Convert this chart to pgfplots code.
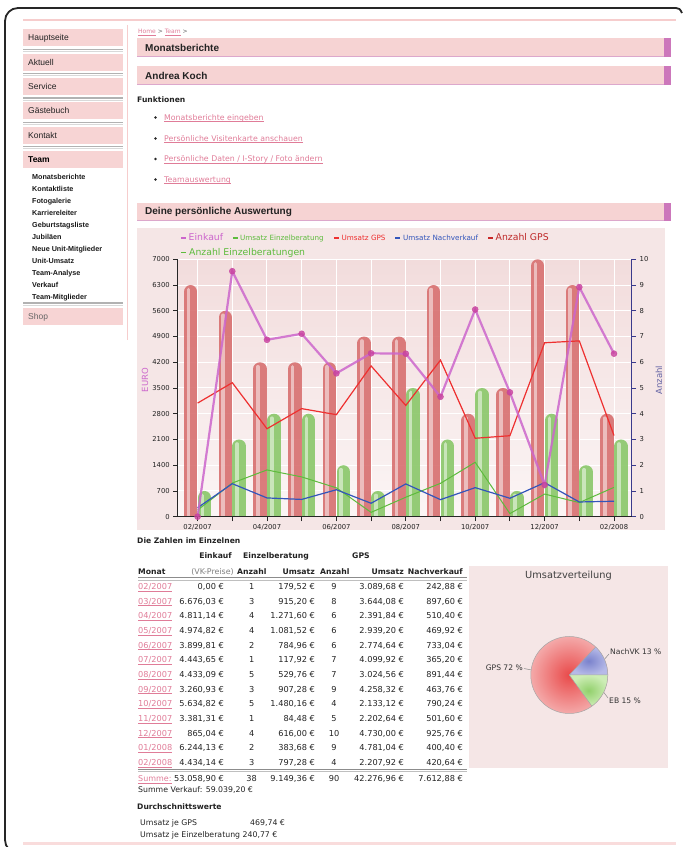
\documentclass[border=0pt]{standalone}
\usepackage{pgfplots}
\pgfplotsset{compat=1.18}
\usepackage{pgfplotstable}
\usepackage{fontspec}
\setmainfont{Liberation Sans}
\newfontfamily\verd{DejaVu Sans}
\newcommand\fs[1]{\fontsize{#1}{#1}\selectfont}
\newcommand\ul[1]{\underline{\smash{#1}}}

\definecolor{btn}{HTML}{F7D4D4}
\definecolor{hdr}{HTML}{F6D3D3}
\definecolor{hdrline}{HTML}{DCA8CC}
\definecolor{mag}{HTML}{CC77BB}
\definecolor{panel}{HTML}{F5E6E6}
\definecolor{plottop}{HTML}{F2DCDC}
\definecolor{plotbot}{HTML}{FBF5F5}
\definecolor{link}{HTML}{E07C98}
\definecolor{einkauf}{HTML}{CC66CC}
\definecolor{einkaufdk}{HTML}{C8409E}
\definecolor{gpsred}{HTML}{EE3030}
\definecolor{ebgreen}{HTML}{5DBB3C}
\definecolor{nvblue}{HTML}{3355BB}
\definecolor{navy}{HTML}{3A3A8C}
\definecolor{txt}{HTML}{222222}
\definecolor{pinkline}{HTML}{F6CDCD}
\definecolor{pieR1}{HTML}{E94A4A}
\definecolor{pieR2}{HTML}{F4A9A9}
\definecolor{pieB1}{HTML}{7A82CC}
\definecolor{pieB2}{HTML}{B6BAE8}
\definecolor{pieG1}{HTML}{92D06C}
\definecolor{pieG2}{HTML}{CDEDB6}
\definecolor{redbar}{HTML}{D87272}
\definecolor{grbar}{HTML}{8CC86C}

\pgfplotstableread{
x gps eb einkauf umeb umgps umnv
0 9 1 0.00 179.52 3089.68 242.88
1 8 3 6676.03 915.20 3644.08 897.60
2 6 4 4811.14 1271.60 2391.84 510.40
3 6 4 4974.82 1081.52 2939.20 469.92
4 6 2 3899.81 784.96 2774.64 733.04
5 7 1 4443.65 117.92 4099.92 365.20
6 7 5 4433.09 529.76 3024.56 891.44
7 9 3 3260.93 907.28 4258.32 463.76
8 4 5 5634.82 1480.16 2133.12 790.24
9 5 1 3381.31 84.48 2202.64 501.60
10 10 4 865.04 616.00 4730.00 925.76
11 9 2 6244.13 383.68 4781.04 400.40
12 4 3 4434.14 797.28 2207.92 420.64
}\data

\newcommand\hdrbar[3]{%
  \fill[hdr] (137,#1) rectangle (671,#2);
  \fill[mag] (664,#1) rectangle (671,#2);
  \draw[hdrline, line width=1.2pt] (137,#2-0.6) -- (664,#2-0.6);
  \node[anchor=west, font=\bfseries\fs{10}] at (145,{(#1+#2)/2}) {#3};}

\newcommand\sbtn[3]{%
  \fill[btn] (23,#1) rectangle (123,#1+17);
  \node[anchor=base west, font=\fs{8.5}, text=#3] at (28,#1+11.8) {#2};}
\newcommand\ssep[1]{%
  \draw[black!30, line width=1.3pt] (23,#1) -- (123,#1);
  \draw[black!15, line width=1pt] (23,#1+2.2) -- (123,#1+2.2);}

\newcommand\flink[2]{%
  \fill[black!85] (155.5,#1) circle (1.4);
  \node[anchor=mid west, font=\verd\fs{7.8}, text=link] at (164,#1) {\ul{#2}};}

\newcommand\trow[8]{%
  \node[anchor=mid west, text=link] at (138,#1) {\ul{#2}};
  \node[anchor=mid east] at (224,#1) {#3};
  \node[anchor=mid] at (251.7,#1) {#4};
  \node[anchor=mid east] at (315,#1) {#5};
  \node[anchor=mid] at (334,#1) {#6};
  \node[anchor=mid east] at (404,#1) {#7};
  \node[anchor=mid east] at (463,#1) {#8};}

\begin{document}
\begin{tikzpicture}[x=1pt,y=1pt]
\useasboundingbox (0,0) rectangle (683,847);
\begin{scope}[shift={(0,847)}, yscale=-1, every node/.style={inner sep=0pt, text=txt}]
% frame
\draw[line width=1.8pt, black!85, rounded corners=13pt] (40,853) -- (5,853) -- (5,8) -- (676,8);
\draw[line width=1.8pt, black!85] (676,8) .. controls (679,8) and (680,9) .. (682,13);
% top and bottom pink lines
\draw[pinkline, line width=2pt] (23,20.5) -- (676,20.5);
\draw[pinkline!70, line width=2.5pt] (23,843.5) -- (676,843.5);
% sidebar
\draw[pinkline, line width=1pt] (127.5,25) -- (127.5,340);
\sbtn{29}{Hauptseite}{txt}
\ssep{49.5}
\sbtn{54}{Aktuell}{txt}
\ssep{73.8}
\sbtn{78}{Service}{txt}
\ssep{98}
\sbtn{102}{G\"astebuch}{txt}
\ssep{122.3}
\sbtn{127}{Kontakt}{txt}
\ssep{146.6}
\fill[btn] (23,151) rectangle (123,168);
\node[anchor=base west, font=\bfseries\fs{8.5}, text=black] at (28,162.8) {Team};
\foreach \t [count=\i from 0] in {Monatsberichte,Kontaktliste,Fotogalerie,Karriereleiter,Geburtstagsliste,Jubil\"aen,Neue Unit-Mitglieder,Unit-Umsatz,Team-Analyse,Verkauf,Team-Mitglieder}
  \node[anchor=base west, font=\bfseries\fs{7.2}, text=black!90] at (32,179.9+11.93*\i) {\t};
\ssep{303}
\fill[btn] (23,308) rectangle (123,325);
\node[anchor=base west, font=\fs{8.5}, text=black!60] at (28,319.8) {Shop};
% breadcrumb
\node[anchor=mid west, font=\verd\fs{6}, text=link] at (138,31) {\ul{Home}\textcolor{black!60}{~>~}\ul{Team}\textcolor{black!60}{~>}};
% headers
\hdrbar{38}{57.5}{Monatsberichte}
\hdrbar{66.5}{85}{Andrea Koch}
\node[anchor=mid west, font=\verd\bfseries\fs{7.6}] at (137,100) {Funktionen};
\flink{117.5}{Monatsberichte eingeben}
\flink{138.5}{Pers\"onliche Visitenkarte anschauen}
\flink{159}{Pers\"onliche Daten / I-Story / Foto \"andern}
\flink{179.5}{Teamauswertung}
\hdrbar{203}{221.5}{Deine pers\"onliche Auswertung}
% chart panel
\fill[panel] (137,228) rectangle (665,530.5);
% legend
\draw[einkauf, line width=1.8pt] (181,238) -- (186,238);
\node[anchor=mid west, font=\verd\fs{9.3}, text=einkauf] at (188.5,238) {Einkauf};
\draw[ebgreen, line width=1.5pt] (233,238) -- (238,238);
\node[anchor=mid west, font=\verd\fs{7.2}, text=ebgreen] at (240,238) {Umsatz Einzelberatung};
\draw[gpsred, line width=1.5pt] (334,238) -- (339,238);
\node[anchor=mid west, font=\verd\fs{7.2}, text=gpsred] at (341.5,238) {Umsatz GPS};
\draw[nvblue, line width=1.5pt] (395,238) -- (400,238);
\node[anchor=mid west, font=\verd\fs{7.2}, text=nvblue] at (403,238) {Umsatz Nachverkauf};
\draw[gpsred!85!black, line width=1.5pt] (488,238) -- (493,238);
\node[anchor=mid west, font=\verd\fs{9.3}, text=gpsred!80!black] at (495.5,238) {Anzahl GPS};
\draw[ebgreen, line width=1.5pt] (181,252.6) -- (186,252.6);
\node[anchor=mid west, font=\verd\fs{9.3}, text=ebgreen] at (189,252.6) {Anzahl Einzelberatungen};
\node[rotate=90, font=\verd\fs{8.5}, text=einkauf] at (145,380) {EURO};
\node[rotate=90, font=\verd\fs{8.5}, text=navy!80] at (659,380) {Anzahl};
% table
\node[anchor=mid west, font=\verd\bfseries\fs{7.6}] at (137,540.5) {Die Zahlen im Einzelnen};
\begin{scope}[every node/.append style={font=\verd\bfseries\fs{7.7}}]
\node[anchor=mid east] at (232,556) {Einkauf};
\node[anchor=mid west] at (243,556) {Einzelberatung};
\node[anchor=mid] at (361,556) {GPS};
\node[anchor=mid west] at (138,571.7) {Monat};
\node[anchor=mid east, font=\verd\fs{7.9}, text=black!50] at (234,571.7) {(VK-Preise)};
\node[anchor=mid west] at (237,571.7) {Anzahl};
\node[anchor=mid east] at (315,571.7) {Umsatz};
\node[anchor=mid west] at (320,571.7) {Anzahl};
\node[anchor=mid east] at (404,571.7) {Umsatz};
\node[anchor=mid east] at (463,571.7) {Nachverkauf};
\end{scope}
\draw[black!45, line width=1pt] (138,577.8) -- (467,577.8);
\draw[black!25, line width=0.8pt] (138,580) -- (467,580);
\begin{scope}[every node/.append style={font=\verd\fs{8.2}}]
\trow{586.7}{02/2007}{0,00 €}{1}{179,52 €}{9}{3.089,68 €}{242,88 €}
\trow{601.4}{03/2007}{6.676,03 €}{3}{915,20 €}{8}{3.644,08 €}{897,60 €}
\trow{616.0}{04/2007}{4.811,14 €}{4}{1.271,60 €}{6}{2.391,84 €}{510,40 €}
\trow{630.7}{05/2007}{4.974,82 €}{4}{1.081,52 €}{6}{2.939,20 €}{469,92 €}
\trow{645.4}{06/2007}{3.899,81 €}{2}{784,96 €}{6}{2.774,64 €}{733,04 €}
\trow{660.0}{07/2007}{4.443,65 €}{1}{117,92 €}{7}{4.099,92 €}{365,20 €}
\trow{674.7}{08/2007}{4.433,09 €}{5}{529,76 €}{7}{3.024,56 €}{891,44 €}
\trow{689.4}{09/2007}{3.260,93 €}{3}{907,28 €}{9}{4.258,32 €}{463,76 €}
\trow{704.1}{10/2007}{5.634,82 €}{5}{1.480,16 €}{4}{2.133,12 €}{790,24 €}
\trow{718.7}{11/2007}{3.381,31 €}{1}{84,48 €}{5}{2.202,64 €}{501,60 €}
\trow{733.4}{12/2007}{865,04 €}{4}{616,00 €}{10}{4.730,00 €}{925,76 €}
\trow{748.1}{01/2008}{6.244,13 €}{2}{383,68 €}{9}{4.781,04 €}{400,40 €}
\trow{762.7}{02/2008}{4.434,14 €}{3}{797,28 €}{4}{2.207,92 €}{420,64 €}
\end{scope}
\draw[black!45, line width=1pt] (138,769.2) -- (467,769.2);
\draw[black!25, line width=0.8pt] (138,771.4) -- (467,771.4);
\begin{scope}[every node/.append style={font=\verd\fs{8.2}}]
\node[anchor=mid west, text=link, font=\verd\fs{8}] at (138,779) {\ul{Summe:}};
\node[anchor=mid east] at (224,779) {53.058,90 €};
\node[anchor=mid] at (251.7,779) {38};
\node[anchor=mid east] at (315,779) {9.149,36 €};
\node[anchor=mid] at (334,779) {90};
\node[anchor=mid east] at (404,779) {42.276,96 €};
\node[anchor=mid east] at (463,779) {7.612,88 €};
\node[anchor=mid west, font=\verd\fs{7.8}] at (138,790) {Summe Verkauf: 59.039,20 €};
\node[anchor=mid west, font=\verd\bfseries\fs{7.6}] at (137,806.5) {Durchschnittswerte};
\node[anchor=mid west, font=\verd\fs{7.8}] at (140,822.7) {Umsatz je GPS};
\node[anchor=mid west, font=\verd\fs{7.8}] at (250,822.7) {469,74 €};
\node[anchor=mid west, font=\verd\fs{7.8}] at (140,834.5) {Umsatz je Einzelberatung 240,77 €};
\end{scope}
% pie panel
\fill[panel] (469,566) rectangle (668,768);
\node[font=\verd\fs{9.8}, text=black!75] at (568.5,575.5) {Umsatzverteilung};
\draw[black!45, line width=0.5pt] (524,668.5) -- (531.5,670);
\draw[black!45, line width=0.5pt] (603,661) -- (609,654);
\draw[black!45, line width=0.5pt] (602,690) -- (608,698);
\node[anchor=mid east, font=\verd\fs{7.6}, text=black!80] at (523,667.5) {GPS 72 \%};
\node[anchor=mid west, font=\verd\fs{7.6}, text=black!80] at (610,651.5) {NachVK 13 \%};
\node[anchor=mid west, font=\verd\fs{7.6}, text=black!80] at (609,701) {EB 15 \%};
\end{scope}
% pie (unflipped)
\pgfmathsetmacro\nv{3.6*13}
\pgfmathsetmacro\eb{360-3.6*15}
\shade[inner color=pieR1, outer color=pieR2] (569.3,172) circle (38.5);
\shade[inner color=pieB1, outer color=pieB2] (569.3,172) -- ++(0:38.5) arc[start angle=0, end angle=\nv, radius=38.5] -- cycle;
\shade[inner color=pieG1, outer color=pieG2] (569.3,172) -- ++(\eb:38.5) arc[start angle=\eb, end angle=360, radius=38.5] -- cycle;
\draw[black!35, line width=0.5pt] (569.3,172) circle (38.5);
\draw[black!35, line width=0.5pt] (569.3,172) -- ++(0:38.5) (569.3,172) -- ++(\nv:38.5) (569.3,172) -- ++(\eb:38.5);

% bars axis (right: Anzahl)
\begin{axis}[at={(177.7pt,330.3pt)}, anchor=south west, scale only axis,
  width=454pt, height=257.4pt,
  xmin=-0.573, xmax=12.51, ymin=0, ymax=10,
  axis y line*=right, axis x line*=bottom,
  x axis line style={line width=1.3pt, black!85},
  y axis line style={line width=1.3pt, navy},
  xtick={0,...,12},
  xticklabels={02/2007,,04/2007,,06/2007,,08/2007,,10/2007,,12/2007,,02/2008},
  ytick={0,...,10},
  tick align=outside, major tick length=4.5pt,
  tick style={navy, line width=0.9pt},
  ticklabel style={font=\verd\fs{6.8}, text=txt},
  /pgf/number format/assume math mode=true,
  axis background/.style={top color=plottop, bottom color=plotbot},
  grid=major, major grid style={white, line width=1pt},
]
% Anzahl GPS bars (red, left of tick), rounded tops
\addplot[ycomb, no marks, draw=redbar, opacity=0.92, line width=13.6pt, line cap=round,
  xshift=-6.94pt, yshift=-6.8pt] table[x=x,y=gps]{\data};
\addplot[ycomb, no marks, draw=white, opacity=0.5, line width=3.6pt, line cap=round,
  xshift=-9.2pt, yshift=-4.5pt] table[x=x,y=gps]{\data};
% Anzahl Einzelberatungen bars (green, right of tick)
\addplot[ycomb, no marks, draw=grbar, opacity=0.92, line width=13.6pt, line cap=round,
  xshift=6.94pt, yshift=-6.8pt] table[x=x,y=eb]{\data};
\addplot[ycomb, no marks, draw=white, opacity=0.5, line width=3.6pt, line cap=round,
  xshift=4.9pt, yshift=-4.5pt] table[x=x,y=eb]{\data};
\end{axis}

% lines axis (left: EURO)
\begin{axis}[at={(177.7pt,330.3pt)}, anchor=south west, scale only axis,
  width=454pt, height=257.4pt,
  xmin=-0.573, xmax=12.51, ymin=0, ymax=7000,
  axis y line*=left, axis x line*=bottom,
  axis line style={line width=1.3pt, black!85},
  xtick={0,...,12}, xticklabels={},
  ytick={0,700,...,7000},
  scaled y ticks=false,
  /pgf/number format/1000 sep={},
  /pgf/number format/assume math mode=true,
  tick align=outside, major tick length=4.5pt,
  tick style={black!85, line width=0.9pt},
  ticklabel style={font=\verd\fs{6.8}, text=txt},
  clip=false,
]
\addplot[ebgreen, line width=1pt] table[x=x,y=umeb]{\data};
\addplot[nvblue, line width=1.2pt] table[x=x,y=umnv]{\data};
\addplot[gpsred, line width=1.2pt] table[x=x,y=umgps]{\data};
\addplot[einkauf, line width=2.2pt, opacity=0.85, mark=*, mark size=3pt,
  mark options={fill=einkaufdk, draw=einkaufdk, line width=0.5pt, opacity=0.8}] table[x=x,y=einkauf]{\data};
\end{axis}
\end{tikzpicture}
\end{document}
